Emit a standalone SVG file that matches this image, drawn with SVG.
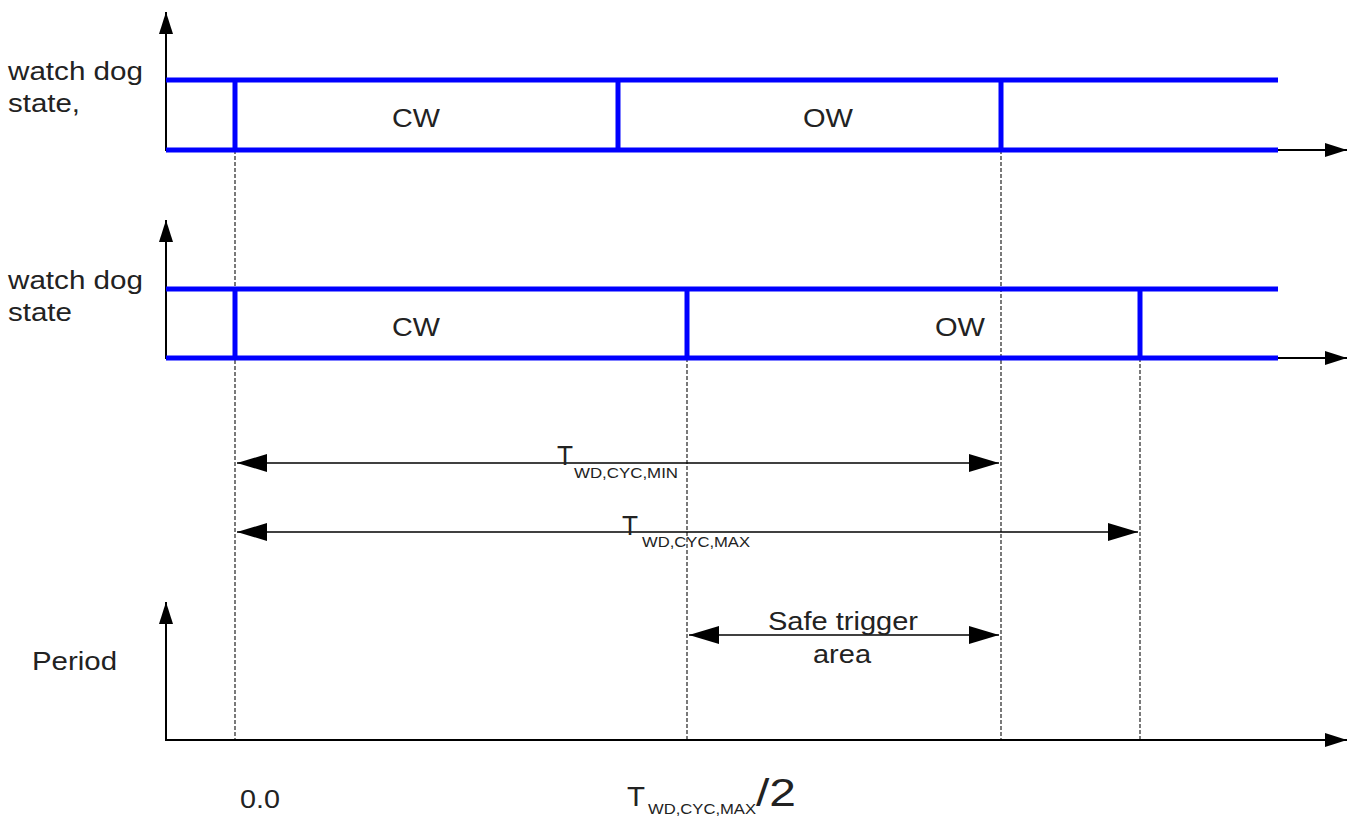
<svg xmlns="http://www.w3.org/2000/svg" width="1358" height="821" viewBox="0 0 1358 821">
<style>
.ax{stroke:#000;stroke-width:2;fill:none}
.bl{stroke:#0000ff;stroke-width:5;fill:none}
.da{stroke:#222;stroke-width:1.2;stroke-dasharray:4 2;fill:none}
.dim{stroke:#000;stroke-width:1.5;fill:none}
text{font-family:"Liberation Sans",Arial,sans-serif;fill:#222}
.lb{font-size:26px}
.sub{font-size:14px}
</style>
<defs>
<marker id="ah" markerWidth="22" markerHeight="14" refX="22" refY="7" orient="auto" markerUnits="userSpaceOnUse"><path d="M0,0 L22,7 L0,14 Z" fill="#000"/></marker>
<marker id="dh" markerWidth="30" markerHeight="18" refX="30" refY="9" orient="auto-start-reverse" markerUnits="userSpaceOnUse"><path d="M0,0 L30,9 L0,18 Z" fill="#000"/></marker>
</defs>
<g id="connectors">
<line class="da" x1="235" y1="150" x2="235" y2="740"/>
<line class="da" x1="1001" y1="150" x2="1001" y2="740"/>
<line class="da" x1="687" y1="358" x2="687" y2="740"/>
<line class="da" x1="1140" y1="358" x2="1140" y2="740"/>
<line class="dim" x1="237" y1="463" x2="999" y2="463" marker-start="url(#dh)" marker-end="url(#dh)"/>
<line class="dim" x1="237" y1="532" x2="1138" y2="532" marker-start="url(#dh)" marker-end="url(#dh)"/>
<line class="dim" x1="689" y1="635" x2="999" y2="635" marker-start="url(#dh)" marker-end="url(#dh)"/>
</g>
<g id="panel1">
<line class="ax" x1="166" y1="151" x2="166" y2="12" marker-end="url(#ah)"/>
<line class="ax" x1="1270" y1="150" x2="1347" y2="150" marker-end="url(#ah)"/>
<line class="bl" x1="166" y1="80" x2="1278" y2="80"/>
<line class="bl" x1="166" y1="150" x2="1278" y2="150"/>
<line class="bl" x1="235" y1="80" x2="235" y2="150"/>
<line class="bl" x1="618" y1="80" x2="618" y2="150"/>
<line class="bl" x1="1001" y1="80" x2="1001" y2="150"/>
<text class="lb" x="8" y="80" textLength="135" lengthAdjust="spacingAndGlyphs">watch dog</text>
<text class="lb" x="8" y="112" textLength="72" lengthAdjust="spacingAndGlyphs">state,</text>
<text class="lb" x="392" y="127" textLength="48" lengthAdjust="spacingAndGlyphs">CW</text>
<text class="lb" x="803" y="127" textLength="50" lengthAdjust="spacingAndGlyphs">OW</text>
</g>
<g id="panel2">
<line class="ax" x1="166" y1="359" x2="166" y2="220" marker-end="url(#ah)"/>
<line class="ax" x1="1270" y1="358" x2="1347" y2="358" marker-end="url(#ah)"/>
<line class="bl" x1="166" y1="289" x2="1278" y2="289"/>
<line class="bl" x1="166" y1="358" x2="1278" y2="358"/>
<line class="bl" x1="235" y1="289" x2="235" y2="358"/>
<line class="bl" x1="687" y1="289" x2="687" y2="358"/>
<line class="bl" x1="1140" y1="289" x2="1140" y2="358"/>
<text class="lb" x="8" y="289" textLength="135" lengthAdjust="spacingAndGlyphs">watch dog</text>
<text class="lb" x="8" y="321" textLength="64" lengthAdjust="spacingAndGlyphs">state</text>
<text class="lb" x="392" y="336" textLength="48" lengthAdjust="spacingAndGlyphs">CW</text>
<text class="lb" x="935" y="336" textLength="50" lengthAdjust="spacingAndGlyphs">OW</text>
</g>
<g id="panel3">
<line class="ax" x1="166" y1="741" x2="166" y2="602" marker-end="url(#ah)"/>
<line class="ax" x1="165" y1="740" x2="1347" y2="740" marker-end="url(#ah)"/>
<text class="lb" x="32" y="670" textLength="85" lengthAdjust="spacingAndGlyphs">Period</text>
<text class="lb" x="240" y="808" textLength="40" lengthAdjust="spacingAndGlyphs">0.0</text>
<text class="lb" x="768" y="630" textLength="150" lengthAdjust="spacingAndGlyphs">Safe trigger</text>
<text class="lb" x="813" y="663" textLength="58" lengthAdjust="spacingAndGlyphs">area</text>
</g>
<g id="labels">
<text x="557" y="465" font-size="28px" textLength="16" lengthAdjust="spacingAndGlyphs">T</text>
<text class="sub" x="574" y="478" textLength="104" lengthAdjust="spacingAndGlyphs">WD,CYC,MIN</text>
<text x="622" y="535" font-size="28px" textLength="16" lengthAdjust="spacingAndGlyphs">T</text>
<text class="sub" x="642" y="547" textLength="108" lengthAdjust="spacingAndGlyphs">WD,CYC,MAX</text>
<text x="627" y="806" font-size="28px" textLength="18" lengthAdjust="spacingAndGlyphs">T</text>
<text class="sub" x="648" y="814" textLength="108" lengthAdjust="spacingAndGlyphs">WD,CYC,MAX</text>
<text x="756" y="806" font-size="38px" textLength="40" lengthAdjust="spacingAndGlyphs">/2</text>
</g>
</svg>
